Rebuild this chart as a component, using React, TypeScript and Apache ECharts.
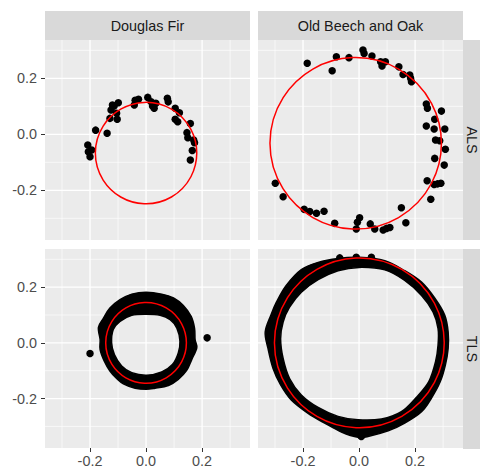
import { useEffect, useRef } from "react";
import * as echarts from "echarts";

// ---------- data ----------
const facetCols = ["Douglas Fir", "Old Beech and Oak"];
const facetRows = ["ALS", "TLS"];
const tickValues = [-0.2, 0, 0.2];
const gridValues = [-0.3, -0.2, -0.1, 0, 0.1, 0.2, 0.3];
const xLimits = [-0.3607, 0.371];
const yLimits = [-0.3775, 0.337];

// ALS, Douglas Fir: individual points
const alsFir: [number, number][] = [
  [-0.12, 0.105], [-0.099, 0.113], [-0.114, 0.101], [-0.125, 0.087], [-0.105, 0.075], [-0.129, 0.057],
  [-0.103, 0.054], [-0.039, 0.122], [-0.042, 0.105], [-0.027, 0.125], [0.006, 0.132], [0.018, 0.116],
  [0.023, 0.101], [0.029, 0.093], [0.035, 0.111], [0.076, 0.129], [0.079, 0.116], [0.104, 0.093],
  [0.119, 0.077], [0.104, 0.054], [0.113, 0.045], [0.158, 0.039], [-0.18, 0.015], [-0.139, 0.004],
  [0.146, 0.006], [0.149, -0.012], [0.173, -0.03], [0.17, -0.02], [0.165, -0.058], [0.158, -0.092],
  [-0.208, -0.038], [-0.194, -0.056], [-0.206, -0.062], [-0.2, -0.08],
];

// ALS, Old Beech and Oak: individual points
const alsBeech: [number, number][] = [
  [-0.185, 0.254], [-0.096, 0.227], [-0.081, 0.277], [-0.036, 0.274], [0.014, 0.301], [0.018, 0.289],
  [0.046, 0.28], [0.077, 0.259], [0.082, 0.244], [0.094, 0.259], [0.142, 0.241], [0.157, 0.214],
  [0.181, 0.212], [0.187, 0.188], [0.184, 0.2], [0.24, 0.108], [0.244, 0.093], [0.294, 0.083],
  [0.27, 0.054], [0.24, 0.03], [0.268, 0.019], [0.306, 0.019], [0.273, -0.02], [0.288, -0.023],
  [0.308, -0.053], [0.27, -0.086], [0.304, -0.11], [0.243, -0.166], [0.268, -0.179], [0.292, -0.175],
  [0.28, -0.177], [0.256, -0.232], [0.151, -0.262], [0.167, -0.316], [0.11, -0.333], [0.086, -0.342],
  [0.098, -0.336], [0.056, -0.338], [0.04, -0.32], [0.002, -0.298], [-0.006, -0.314], [-0.01, -0.338],
  [-0.087, -0.318], [-0.125, -0.275], [-0.152, -0.282], [-0.176, -0.276], [-0.196, -0.268],
  [-0.271, -0.223], [-0.299, -0.175],
];

// TLS, Douglas Fir: outline of the dense band of points (outer and inner edge), plus loose points
const tlsFirOuter: [number, number][] = [
  [0, 0.182], [0.056, 0.175], [0.098, 0.161], [0.133, 0.134], [0.161, 0.095], [0.173, 0.053],
  [0.175, 0.012], [0.181, -0.018], [0.163, -0.06], [0.145, -0.099], [0.115, -0.131], [0.08, -0.153],
  [0.032, -0.163], [0, -0.167], [-0.039, -0.163], [-0.081, -0.147], [-0.105, -0.128], [-0.129, -0.101],
  [-0.149, -0.066], [-0.164, -0.024], [-0.164, 0.012], [-0.17, 0.056], [-0.152, 0.089], [-0.129, 0.125],
  [-0.093, 0.155], [-0.051, 0.175],
];
const tlsFirInner: [number, number][] = [
  [0, 0.103], [0.05, 0.099], [0.086, 0.083], [0.11, 0.053], [0.121, 0.006], [0.115, -0.036],
  [0.094, -0.078], [0.056, -0.104], [0.002, -0.116], [-0.051, -0.107], [-0.087, -0.083],
  [-0.113, -0.042], [-0.123, 0], [-0.117, 0.048], [-0.093, 0.077], [-0.051, 0.099],
];
const tlsFirLoose: [number, number][] = [[-0.2, -0.038], [0.218, 0.018]];

// TLS, Old Beech and Oak
const tlsBeechOuter: [number, number][] = [
  [0, 0.307], [0.092, 0.295], [0.163, 0.259], [0.223, 0.218], [0.27, 0.161], [0.306, 0.099],
  [0.318, 0.039], [0.318, -0.02], [0.308, -0.08], [0.29, -0.139], [0.258, -0.199], [0.223, -0.247],
  [0.163, -0.288], [0.104, -0.316], [0.032, -0.336], [-0.004, -0.339], [-0.063, -0.32], [-0.123, -0.288],
  [-0.182, -0.253], [-0.242, -0.205], [-0.28, -0.151], [-0.307, -0.092], [-0.325, -0.02], [-0.335, 0.039],
  [-0.315, 0.099], [-0.295, 0.146], [-0.26, 0.206], [-0.206, 0.263], [-0.146, 0.289], [-0.075, 0.303],
];
const tlsBeechInner: [number, number][] = [
  [0, 0.271], [0.092, 0.262], [0.163, 0.224], [0.223, 0.17], [0.264, 0.111], [0.282, 0.051],
  [0.282, -0.008], [0.273, -0.068], [0.249, -0.139], [0.205, -0.195], [0.151, -0.247], [0.08, -0.273],
  [-0.004, -0.276], [-0.075, -0.264], [-0.146, -0.232], [-0.206, -0.187], [-0.248, -0.128],
  [-0.271, -0.056], [-0.28, 0.015], [-0.271, 0.075], [-0.248, 0.128], [-0.206, 0.182], [-0.146, 0.227],
  [-0.075, 0.259],
];
const tlsBeechLoose: [number, number][] = [
  [-0.069, 0.305], [-0.01, 0.307], [0.044, 0.307], [0.008, -0.336],
];

// fitted circles per panel (TL, TR, BL, BR)
const circleCx = [0, -0.012, 0, 0.001];
const circleCy = [-0.067, -0.032, 0, 0];
const circleR = [0.181, 0.306, 0.144, 0.303];

// ---------- layout / style ----------
const PANEL_LEFT = [45, 258];
const PANEL_TOP = [40, 249];
const PANEL_W = 205;
const PANEL_H = 200;
const STRIP = 29;
const FONT = '"Liberation Sans", Arial, Helvetica, sans-serif';
const FS = 14.4;

const fmt = (v: number) => Number(v).toFixed(1);

function smoothClosed(pts: number[][]): string {
  const n = pts.length;
  let d = `M${pts[0][0].toFixed(2)} ${pts[0][1].toFixed(2)}`;
  for (let i = 0; i < n; i++) {
    const p0 = pts[(i - 1 + n) % n];
    const p1 = pts[i];
    const p2 = pts[(i + 1) % n];
    const p3 = pts[(i + 2) % n];
    const c1x = p1[0] + (p2[0] - p0[0]) / 6;
    const c1y = p1[1] + (p2[1] - p0[1]) / 6;
    const c2x = p2[0] - (p3[0] - p1[0]) / 6;
    const c2y = p2[1] - (p3[1] - p1[1]) / 6;
    d += ` C${c1x.toFixed(2)} ${c1y.toFixed(2)} ${c2x.toFixed(2)} ${c2y.toFixed(2)} ${p2[0].toFixed(2)} ${p2[1].toFixed(2)}`;
  }
  return d + " Z";
}

function buildOption() {
  const grids: any[] = [];
  const xAxes: any[] = [];
  const yAxes: any[] = [];
  const series: any[] = [];
  const graphic: any[] = [];

  for (let r = 0; r < 2; r++) {
    for (let c = 0; c < 2; c++) {
      const i = r * 2 + c;
      grids.push({
        left: PANEL_LEFT[c], top: PANEL_TOP[r], width: PANEL_W, height: PANEL_H,
        show: true, backgroundColor: "#EBEBEB", borderWidth: 0,
      });
      xAxes.push({
        type: "value", gridIndex: i, min: xLimits[0], max: xLimits[1],
        axisLine: { show: false, onZero: false },
        splitLine: { show: false },
        axisTick: { show: r === 1, customValues: tickValues, length: 4, lineStyle: { color: "#333333", width: 1 } },
        axisLabel: {
          show: r === 1, customValues: tickValues, formatter: fmt, margin: 6,
          color: "#4D4D4D", fontSize: FS, fontFamily: FONT,
        },
      });
      yAxes.push({
        type: "value", gridIndex: i, min: yLimits[0], max: yLimits[1],
        axisLine: { show: false, onZero: false },
        splitLine: { show: false },
        axisTick: { show: c === 0, customValues: tickValues, length: 4, lineStyle: { color: "#333333", width: 1 } },
        axisLabel: {
          show: c === 0, customValues: tickValues, formatter: fmt, margin: 8,
          color: "#4D4D4D", fontSize: FS, fontFamily: FONT,
        },
      });

      // grid lines
      const gl: number[][] = [];
      gridValues.forEach((v) => {
        const major = tickValues.some((t) => Math.abs(t - v) < 1e-9) ? 1 : 0;
        gl.push([v, major, 1]);
        gl.push([v, major, 0]);
      });
      series.push({
        type: "custom", xAxisIndex: i, yAxisIndex: i, z: 1, silent: true, data: gl,
        renderItem: (params: any, api: any) => {
          const v = api.value(0);
          const major = api.value(1) === 1;
          const vert = api.value(2) === 1;
          const cs = params.coordSys;
          let shape;
          if (vert) {
            const p = api.coord([v, 0]);
            shape = { x1: p[0], y1: cs.y, x2: p[0], y2: cs.y + cs.height };
          } else {
            const p = api.coord([0, v]);
            shape = { x1: cs.x, y1: p[1], x2: cs.x + cs.width, y2: p[1] };
          }
          return { type: "line", shape, style: { stroke: "#FFFFFF", lineWidth: major ? 1.3 : 0.65 } };
        },
      });

      // fitted circle
      series.push({
        type: "custom", xAxisIndex: i, yAxisIndex: i, z: 4, silent: true,
        data: [[circleCx[i], circleCy[i], circleR[i]]],
        renderItem: (_params: any, api: any) => {
          const ctr = api.coord([api.value(0), api.value(1)]);
          const s = api.size([api.value(2), api.value(2)]);
          return {
            type: "circle",
            shape: { cx: ctr[0], cy: ctr[1], r: s[0] },
            style: { fill: "none", stroke: "#FF0000", lineWidth: 1.5 },
          };
        },
      });
    }
  }

  // points
  const pts = [alsFir, alsBeech, tlsFirLoose, tlsBeechLoose];
  pts.forEach((d, i) => {
    series.push({
      type: "scatter", xAxisIndex: i, yAxisIndex: i, z: 3, data: d,
      symbolSize: 7.5, itemStyle: { color: "#000000", opacity: 1 }, silent: true,
    });
  });

  // dense bands
  const rings = [
    { i: 2, outer: tlsFirOuter, inner: tlsFirInner },
    { i: 3, outer: tlsBeechOuter, inner: tlsBeechInner },
  ];
  rings.forEach(({ i, outer, inner }) => {
    series.push({
      type: "custom", xAxisIndex: i, yAxisIndex: i, z: 3, silent: true, data: [[0, 0]],
      renderItem: (_params: any, api: any) => {
        const o = outer.map((p) => api.coord(p));
        const inn = inner.slice().reverse().map((p) => api.coord(p));
        const d = smoothClosed(o) + " " + smoothClosed(inn);
        return {
          type: "path",
          shape: { pathData: d },
          style: { fill: "#000000", stroke: "#000000", lineWidth: 1.5, lineJoin: "round" },
        };
      },
    });
  });

  // strips
  for (let c = 0; c < 2; c++) {
    graphic.push({
      type: "rect", silent: true,
      shape: { x: PANEL_LEFT[c], y: PANEL_TOP[0] - STRIP, width: PANEL_W, height: STRIP },
      style: { fill: "#D9D9D9" },
    });
    graphic.push({
      type: "text", silent: true,
      x: PANEL_LEFT[c] + PANEL_W / 2, y: PANEL_TOP[0] - STRIP / 2 + 0.5,
      style: {
        text: facetCols[c], fill: "#1A1A1A", fontSize: FS, fontFamily: FONT,
        align: "center", verticalAlign: "middle",
      },
    });
  }
  const stripX = PANEL_LEFT[1] + PANEL_W;
  for (let r = 0; r < 2; r++) {
    graphic.push({
      type: "rect", silent: true,
      shape: { x: stripX, y: PANEL_TOP[r], width: STRIP, height: PANEL_H },
      style: { fill: "#D9D9D9" },
    });
    graphic.push({
      type: "text", silent: true,
      x: stripX + 9, y: PANEL_TOP[r] + PANEL_H / 2,
      rotation: -Math.PI / 2,
      style: {
        text: facetRows[r], fill: "#1A1A1A", fontSize: FS, fontFamily: FONT,
        align: "center", verticalAlign: "middle",
      },
    });
  }

  return {
    animation: false,
    backgroundColor: "#FFFFFF",
    textStyle: { fontFamily: FONT },
    grid: grids,
    xAxis: xAxes,
    yAxis: yAxes,
    series,
    graphic,
  };
}

export default function App() {
  const ref = useRef<HTMLDivElement>(null);
  useEffect(() => {
    if (!ref.current) return;
    const chart = echarts.init(ref.current, undefined, { renderer: "svg" });
    chart.setOption(buildOption() as any);
    return () => chart.dispose();
  }, []);
  return (
    <div
      ref={ref}
      style={{ position: "absolute", left: 0, top: 0, width: 480, height: 468 }}
    />
  );
}
